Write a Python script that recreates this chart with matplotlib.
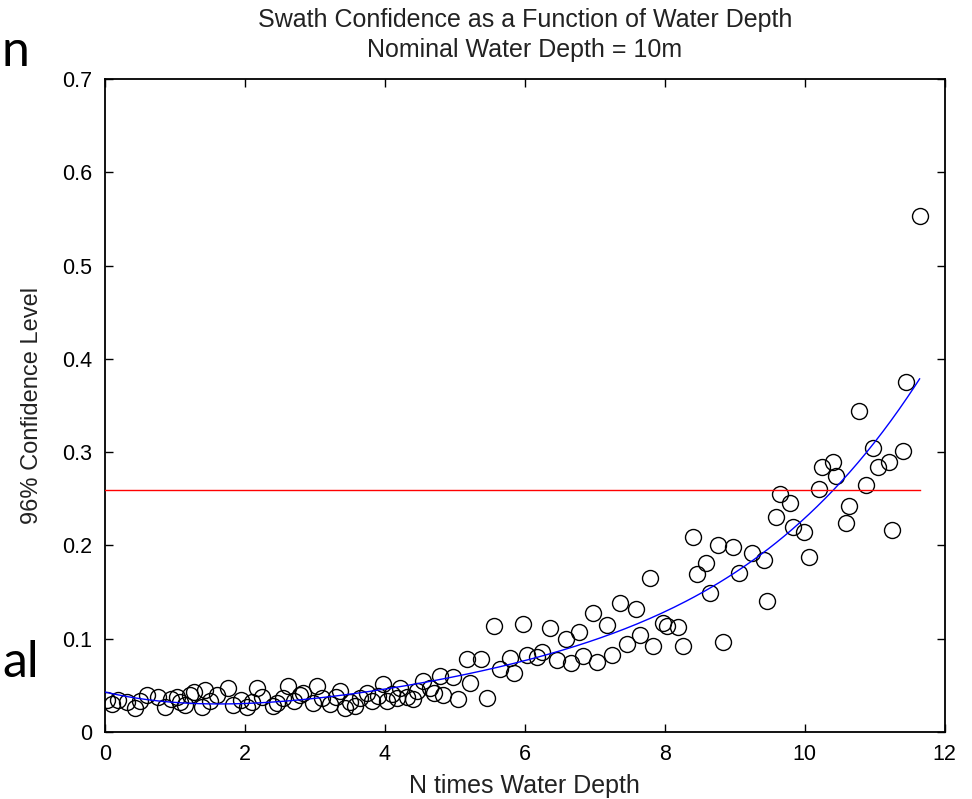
import numpy as np
import matplotlib
matplotlib.use("Agg")
import matplotlib.pyplot as plt
from matplotlib.ticker import FormatStrFormatter

# scatter values
depth_n = [0.03, 0.10, 0.19, 0.31, 0.43, 0.50, 0.60, 0.76, 0.86, 0.95, 1.03, 1.07,
           1.15, 1.21, 1.27, 1.39, 1.43, 1.50, 1.60, 1.76, 1.83, 1.95, 2.03, 2.10,
           2.17, 2.24, 2.40, 2.46, 2.55, 2.61, 2.70, 2.79, 2.83, 2.97, 3.03, 3.10,
           3.21, 3.30, 3.36, 3.43, 3.50, 3.57, 3.64, 3.74, 3.81, 3.90, 3.97, 4.03,
           4.10, 4.17, 4.21, 4.31, 4.40, 4.46, 4.54, 4.64, 4.70, 4.79, 4.83, 4.97,
           5.04, 5.17, 5.21, 5.37, 5.46, 5.56, 5.64, 5.79, 5.84, 5.97, 6.03, 6.17,
           6.24, 6.36, 6.46, 6.59, 6.66, 6.77, 6.83, 6.97, 7.03, 7.17, 7.24, 7.36,
           7.46, 7.59, 7.64, 7.79, 7.83, 7.97, 8.03, 8.19, 8.26, 8.40, 8.46, 8.59,
           8.64, 8.76, 8.83, 8.97, 9.06, 9.24, 9.41, 9.46, 9.59, 9.64, 9.79, 9.83,
           9.99, 10.06, 10.20, 10.24, 10.40, 10.45, 10.59, 10.63, 10.77, 10.87, 10.97, 11.05,
           11.20, 11.25, 11.40, 11.44, 11.64]
confidence = [0.034, 0.030, 0.034, 0.032, 0.026, 0.033, 0.040, 0.038, 0.027, 0.035, 0.038, 0.032,
              0.029, 0.040, 0.043, 0.027, 0.045, 0.033, 0.040, 0.047, 0.029, 0.034, 0.027, 0.032,
              0.047, 0.038, 0.028, 0.031, 0.036, 0.049, 0.033, 0.040, 0.042, 0.031, 0.049, 0.036,
              0.030, 0.037, 0.044, 0.026, 0.032, 0.028, 0.036, 0.042, 0.033, 0.039, 0.051, 0.033,
              0.041, 0.036, 0.047, 0.038, 0.035, 0.044, 0.055, 0.047, 0.042, 0.060, 0.040, 0.059,
              0.035, 0.078, 0.052, 0.078, 0.036, 0.114, 0.067, 0.079, 0.063, 0.116, 0.082, 0.080,
              0.086, 0.111, 0.077, 0.100, 0.074, 0.107, 0.081, 0.128, 0.075, 0.115, 0.083, 0.138,
              0.094, 0.132, 0.104, 0.165, 0.092, 0.117, 0.114, 0.113, 0.092, 0.209, 0.169, 0.181,
              0.149, 0.201, 0.096, 0.198, 0.170, 0.192, 0.184, 0.140, 0.230, 0.255, 0.245, 0.220,
              0.214, 0.188, 0.261, 0.284, 0.289, 0.275, 0.224, 0.242, 0.344, 0.265, 0.304, 0.284,
              0.290, 0.217, 0.301, 0.375, 0.553]
threshold = 0.26

x_ticks = [0, 2, 4, 6, 8, 10, 12]
y_ticks = [0, 0.1, 0.2, 0.3, 0.4, 0.5, 0.6, 0.7]

plt.rcParams["font.family"] = ["Liberation Sans", "DejaVu Sans"]

x = np.array(depth_n)
y = np.array(confidence)

# fitted trend through the points
coef = np.polyfit(x, y, 4)
xf = np.linspace(0, x.max(), 200)
yf = np.polyval(coef, xf)

fig = plt.figure(figsize=(9.72, 7.99), dpi=100)
ax = fig.add_axes([0.108, 0.0839, 0.864, 0.817])

ax.plot(x, y, "o", mfc="none", mec="black", ms=11.5, mew=1.0, zorder=2)
ax.plot(xf, yf, color="blue", lw=1.0, zorder=3)
ax.plot([0, x.max()], [threshold, threshold], color="red", lw=1.0, zorder=3)

ax.set_xlim(0, 12)
ax.set_ylim(0, 0.7)
ax.set_xticks(x_ticks)
ax.set_yticks(y_ticks)
ax.yaxis.set_major_formatter(FormatStrFormatter("%g"))
ax.tick_params(direction="in", length=6, width=1, top=True, right=True,
               labelsize=15.5, colors="black")
ax.tick_params(axis="y", pad=9)
ax.tick_params(axis="x", pad=9)
for s in ax.spines.values():
    s.set_linewidth(1.3)

ax.set_title("Swath Confidence as a Function of Water Depth\nNominal Water Depth = 10m",
             fontsize=18, pad=16, linespacing=1.3, color="#222222")
ax.set_xlabel("N times Water Depth", fontsize=18, labelpad=6, color="#222222")
ax.set_ylabel("96% Confidence Level", fontsize=17, labelpad=14, color="#222222")

# slide text fragments at the left edge
fig.text(0.002, 0.935, "n", fontsize=36, family=["Lato", "DejaVu Sans"], va="center")
fig.text(0.002, 0.17, "al", fontsize=36, family=["Lato", "DejaVu Sans"], va="center")

fig.savefig("out.png", dpi=100)
